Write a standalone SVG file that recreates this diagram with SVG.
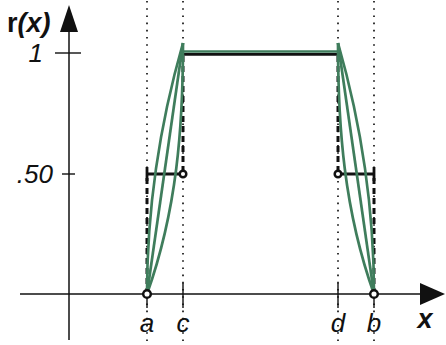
<svg xmlns="http://www.w3.org/2000/svg" width="446" height="345" viewBox="0 0 446 345">
<style>
.dot{stroke:#222;stroke-width:1.8;stroke-dasharray:1.6 5.6;fill:none}
.ax{stroke:#111;stroke-width:1.5;fill:none}
.tk{stroke:#111;stroke-width:1.4;fill:none}
.g{stroke:#3f7d5c;stroke-width:2.7;fill:none}
.k{stroke:#111;stroke-width:2.8;fill:none}
.dash{stroke:#111;stroke-width:3;stroke-dasharray:6 4;fill:none}
.ring{stroke:#111;stroke-width:2.5;fill:#fff}
.lab{font-family:"Liberation Sans",Arial,sans-serif;font-style:italic;font-size:26px;fill:#111}
.bl{font-family:"Liberation Sans",Arial,sans-serif;font-weight:bold;font-size:27px;fill:#111}
</style>
<g id="guides">
<line class="dot" x1="147" y1="1" x2="147" y2="345"/>
<line class="dot" x1="183" y1="1" x2="183" y2="345"/>
<line class="dot" x1="338" y1="1" x2="338" y2="345"/>
<line class="dot" x1="374" y1="1" x2="374" y2="345"/>
</g>
<g id="axes">
<line class="ax" x1="69" y1="30" x2="69" y2="340"/>
<polygon points="60,32 69,5 78,32" fill="#111"/>
<line class="ax" x1="20" y1="294" x2="422" y2="294"/>
<polygon points="420,283 445,294 420,305" fill="#111"/>
<line class="tk" x1="55" y1="53" x2="81" y2="53"/>
<line class="tk" x1="62" y1="174" x2="75" y2="174"/>
<line class="tk" x1="147" y1="294" x2="147" y2="308"/>
<line class="tk" x1="183" y1="283" x2="183" y2="308"/>
<line class="tk" x1="338" y1="283" x2="338" y2="308"/>
<line class="tk" x1="374" y1="294" x2="374" y2="308"/>
</g>
<g id="crisp">
<line class="k" x1="184" y1="54.3" x2="337" y2="54.3"/>
<line class="dash" x1="183" y1="56" x2="183" y2="170"/>
<line class="dash" x1="147" y1="178" x2="147" y2="292"/>
<line class="dash" x1="338" y1="56" x2="338" y2="170"/>
<line class="dash" x1="374" y1="178" x2="374" y2="292"/>
<line class="k" x1="147" y1="174" x2="180" y2="174"/>
<line class="k" x1="147" y1="167" x2="147" y2="181"/>
<line class="k" x1="341" y1="174" x2="374" y2="174"/>
<line class="k" x1="374" y1="167" x2="374" y2="181"/>
</g>
<g id="fuzzy">
<line class="g" x1="183" y1="51.5" x2="338" y2="51.5"/>
<path class="g" d="M147,294 Q147,168.5 183,43"/>
<path class="g" d="M147,294 L183,43"/>
<path class="g" d="M147,294 C177,210 183,127 183,43"/>
<path class="g" d="M374,294 Q374,168.5 338,43"/>
<path class="g" d="M374,294 L338,43"/>
<path class="g" d="M374,294 C344,210 338,127 338,43"/>
</g>
<g id="points">
<circle class="ring" cx="183" cy="174" r="3.3"/>
<circle class="ring" cx="338" cy="174" r="3.3"/>
<circle class="ring" cx="147" cy="294" r="3.8"/>
<circle class="ring" cx="374" cy="294" r="3.8"/>
</g>
<g id="labels">
<text class="bl" x="7" y="32">r<tspan font-style="italic">(x)</tspan></text>
<text class="lab" x="43" y="62" text-anchor="end">1</text>
<text class="lab" x="53" y="183" text-anchor="end">.50</text>
<text class="lab" x="147" y="332" text-anchor="middle">a</text>
<text class="lab" x="183" y="332" text-anchor="middle">c</text>
<text class="lab" x="338" y="332" text-anchor="middle">d</text>
<text class="lab" x="374" y="332" text-anchor="middle">b</text>
<text class="bl" x="425" y="328" font-style="italic" text-anchor="middle">x</text>
</g>
</svg>
